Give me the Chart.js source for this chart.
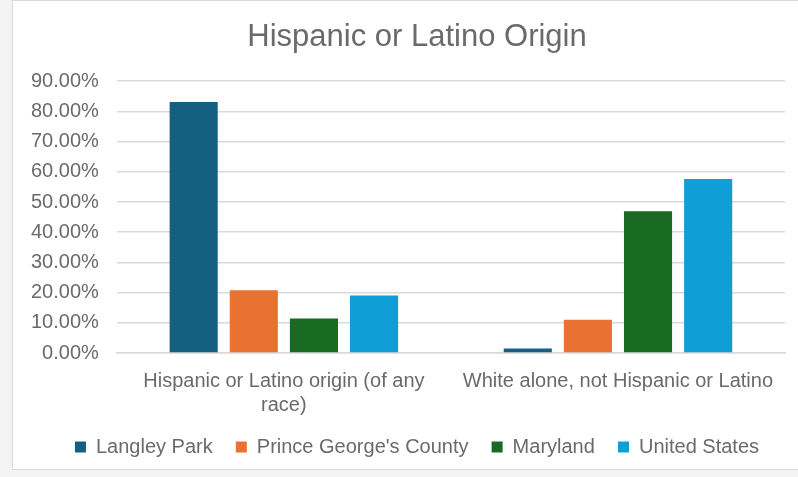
<!DOCTYPE html>
<html>
<head>
<meta charset="utf-8">
<script src="https://cdn.jsdelivr.net/npm/chart.js@4"></script>
<style>
  html, body { margin: 0; padding: 0; background: #f3f3f3; overflow: hidden; }
  #wrap {
    position: absolute; left: 12px; top: 0; width: 810px; height: 470px;
    background: #fff; border: 1px solid #d9d9d9; box-sizing: border-box;
  }
  canvas { display: block; }
</style>
</head>
<body>
<div id="wrap"><canvas id="chart" width="808" height="468"></canvas></div>
<script>
// Hispanic or Latino Origin chart data
const categories = [['Hispanic or Latino origin (of any', 'race)'], 'White alone, not Hispanic or Latino'];
const seriesNames = ['Langley Park', "Prince George's County", 'Maryland', 'United States'];
const langleyPark = [83.1, 1.5];
const princeGeorges = [20.8, 11.0];
const maryland = [11.4, 46.9];
const unitedStates = [19.0, 57.6];
const yTicks = [0, 10, 20, 30, 40, 50, 60, 70, 80, 90];

const colors = ['#156082', '#e97132', '#196b24', '#0f9ed5'];
const values = [langleyPark, princeGeorges, maryland, unitedStates];

const FONT = "'Liberation Sans', Arial, sans-serif";
const TEXT = '#6a6a6a';

new Chart(document.getElementById('chart').getContext('2d'), {
    type: 'bar',
    data: {
        labels: categories,
        datasets: seriesNames.map((name, i) => ({
            label: name,
            data: values[i],
            backgroundColor: colors[i],
            barPercentage: 0.8,
            categoryPercentage: 0.72
        }))
    },
    options: {
        responsive: false,
        animation: false,
        layout: { padding: { left: 0, right: 0, top: 10, bottom: 2 } },
        plugins: {
            title: {
                display: true,
                text: 'Hispanic or Latino Origin',
                color: TEXT,
                font: { family: FONT, size: 31, weight: 'normal' },
                padding: { top: 8, bottom: 25 }
            },
            legend: {
                position: 'bottom',
                labels: {
                    color: TEXT,
                    font: { family: FONT, size: 20 },
                    boxWidth: 11,
                    boxHeight: 11,
                    padding: 12,
                    // wider gaps between items, like the original legend
                    generateLabels: chart => {
                        const items = Chart.defaults.plugins.legend.labels.generateLabels(chart);
                        items.forEach((it, i) => {
                            if (i < items.length - 1) it.text += '  ';
                        });
                        return items;
                    }
                }
            },
            tooltip: { enabled: false }
        },
        scales: {
            y: {
                min: 0,
                max: 90,
                afterBuildTicks: axis => { axis.ticks = yTicks.map(v => ({ value: v })); },
                grid: { color: '#d9d9d9', lineWidth: 1.5, drawTicks: false },
                border: { display: false },
                ticks: {
                    color: TEXT,
                    font: { family: FONT, size: 20 },
                    padding: 18,
                    callback: v => v.toFixed(2) + '%'
                }
            },
            // empty right-hand spacer so the plot ends where the original does
            yRight: {
                position: 'right',
                grid: { display: false },
                border: { display: false },
                ticks: { display: false },
                afterFit: s => { s.width = 36; }
            },
            x: {
                grid: { display: false },
                border: { color: '#d9d9d9', width: 1.5 },
                ticks: {
                    color: TEXT,
                    font: { family: FONT, size: 20 },
                    padding: 8,
                    maxRotation: 0
                }
            }
        }
    }
});
</script>
</body>
</html>
